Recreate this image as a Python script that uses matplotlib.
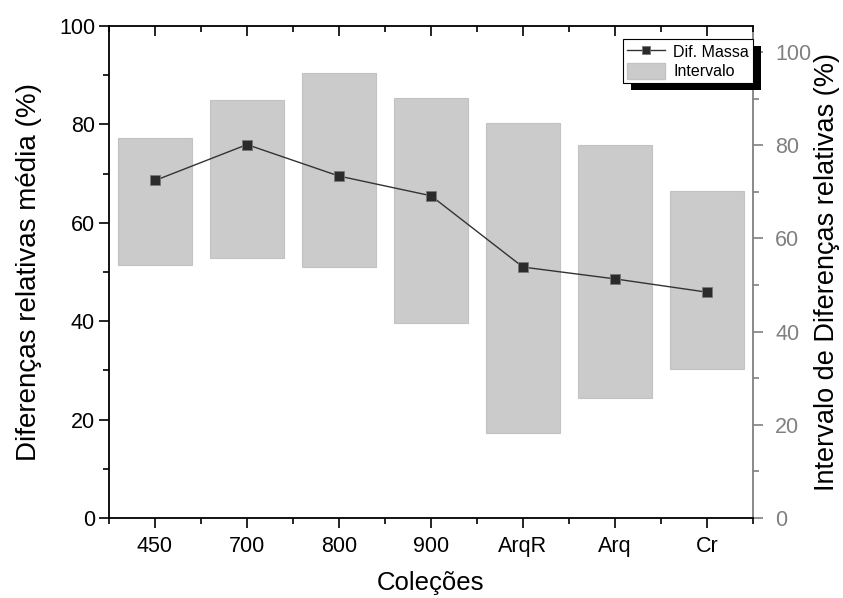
import matplotlib
matplotlib.use("Agg")
import matplotlib.pyplot as plt
from matplotlib.ticker import MultipleLocator
from matplotlib.patches import Rectangle, Patch
from matplotlib.lines import Line2D

plt.rcParams['font.family'] = ['Liberation Sans', 'DejaVu Sans']

categories = ["450", "700", "800", "900", "ArqR", "Arq", "Cr"]
dif_massa = [68.6, 75.9, 69.5, 65.5, 51.0, 48.6, 45.9]
intervalo_min = [54.4, 55.9, 53.9, 41.8, 18.3, 25.8, 31.9]
intervalo_max = [81.5, 89.8, 95.6, 90.1, 84.7, 80.1, 70.2]

fig = plt.figure(figsize=(8.43, 5.98), dpi=100)
ax = fig.add_axes([0.1293, 0.1338, 0.7639, 0.8227])
ax2 = ax.twinx()

x = list(range(len(categories)))
heights = [hi - lo for lo, hi in zip(intervalo_min, intervalo_max)]
ax2.bar(x, heights, bottom=intervalo_min, width=0.8, color='#cbcbcb',
        edgecolor='#c2c2c2', linewidth=0.8, zorder=1)

ax.set_zorder(ax2.get_zorder() + 1)
ax.patch.set_visible(False)
ax.plot(x, dif_massa, color='#333333', linewidth=1.0, marker='s',
        markersize=7.5, markerfacecolor='#2b2b2b', markeredgecolor='#777777',
        markeredgewidth=0.6, zorder=3)

ax.set_xlim(-0.5, 6.5)
ax.set_ylim(0, 100)
ax2.set_ylim(0, 105.6)

ax.set_xticks(x)
ax.set_xticklabels(categories)
ax.xaxis.set_minor_locator(MultipleLocator(0.5))
ax.yaxis.set_major_locator(MultipleLocator(20))
ax.yaxis.set_minor_locator(MultipleLocator(10))
ax2.set_yticks([0, 20, 40, 60, 80, 100])
ax2.yaxis.set_minor_locator(MultipleLocator(10))

ax.tick_params(axis='x', which='both', top=True, bottom=True, labeltop=False)
ax.tick_params(axis='x', which='major', direction='out', length=7, width=1.2, labelsize=15.5, pad=6)
ax.tick_params(axis='x', which='minor', direction='out', length=4.3, width=1.2)
ax.tick_params(axis='y', which='major', direction='out', length=7, width=1.2, labelsize=15.5, pad=3)
ax.tick_params(axis='y', which='minor', direction='out', length=4.3, width=1.2)
ax2.tick_params(axis='y', which='major', direction='out', length=7, width=1.2,
                labelsize=15.5, colors='#808080', pad=9)
ax2.tick_params(axis='y', which='minor', direction='out', length=4.3, width=1.2, colors='#808080')
ax2.tick_params(axis='x', which='both', top=False, bottom=False)

# top axis ticks point inward
for t in ax.xaxis.get_major_ticks():
    t.tick2line.set_marker(3)
    t.tick2line.set_markersize(7)
for t in ax.xaxis.get_minor_ticks():
    t.tick2line.set_marker(3)
    t.tick2line.set_markersize(4.3)

for s in ['left', 'bottom', 'top']:
    ax.spines[s].set_linewidth(1.3)
    ax.spines[s].set_color('black')
ax.spines['right'].set_visible(False)
ax2.spines['right'].set_color('#808080')
ax2.spines['right'].set_linewidth(1.3)
for s in ['left', 'bottom', 'top']:
    ax2.spines[s].set_visible(False)

ax.set_xlabel('Coleções', fontsize=18.5, labelpad=10)
ax.set_ylabel('Diferenças relativas média (%)', fontsize=20, labelpad=12)
ax2.set_ylabel('Intervalo de Diferenças relativas (%)', fontsize=19.5, labelpad=2)

handles = [Line2D([], [], color='#333333', linewidth=1.0, marker='s', markersize=6,
                  markerfacecolor='#2b2b2b', markeredgecolor='#777777', markeredgewidth=0.6),
           Patch(facecolor='#cbcbcb', edgecolor='#c2c2c2')]
leg = ax.legend(handles, ['Dif. Massa', 'Intervalo'], loc='upper right',
                bbox_to_anchor=(1.0, 0.9736), fontsize=11.5, frameon=True,
                fancybox=False, edgecolor='black', framealpha=1,
                borderaxespad=0, handlelength=2.4, handleheight=1.2,
                handletextpad=0.5, borderpad=0.25, labelspacing=0.2)
leg.get_frame().set_linewidth(0.8)
leg.set_zorder(6)

# drop shadow behind the legend box
fig.canvas.draw()
bb = leg.get_window_extent()
shadow = Rectangle((bb.x0 + 8, bb.y0 - 7), bb.width, bb.height, transform=None,
                   facecolor='black', edgecolor='none', clip_on=False, zorder=5.5)
ax.add_artist(shadow)

fig.savefig('out.png', dpi=100)
